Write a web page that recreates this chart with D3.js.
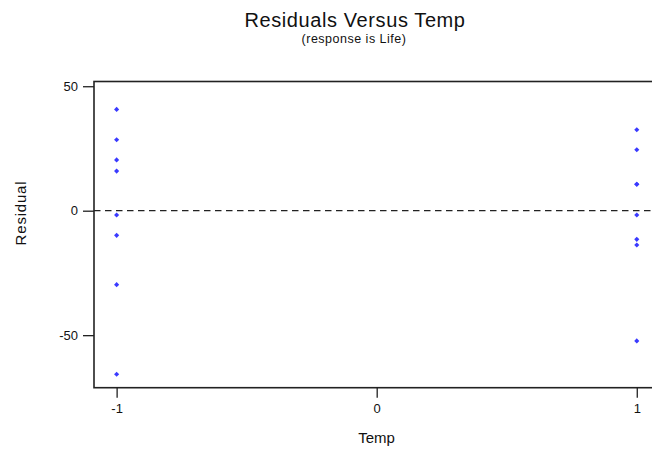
<!DOCTYPE html>
<html><head><meta charset="utf-8">
<script src="https://cdn.jsdelivr.net/npm/d3@7"></script>
<style>body{margin:0;background:#fff;} svg{display:block;font-family:"Liberation Sans",Arial,sans-serif;}</style>
</head><body>
<script>
const tempLevels = [-1, 1];
const residualsLow = [40.7, 28.5, 20.4, 15.9, -1.7, -9.9, -29.7, -65.7];
const residualsHigh = [32.5, 24.5, 10.6, 10.6, -1.7, -11.5, -13.8, -52.3];
const xTicks = [-1, 0, 1];
const yTicks = [50, 0, -50];

const W = 652, H = 454;
const svg = d3.select("body").append("svg").attr("width", W).attr("height", H);

const x = d3.scaleLinear().domain([-1.087, 1.087]).range([94, 659.4]);
const y = d3.scaleLinear().domain([-71.1, 51.9]).range([387.7, 81.5]);

const points = [];
residualsLow.forEach(v => points.push({t: tempLevels[0], r: v}));
residualsHigh.forEach(v => points.push({t: tempLevels[1], r: v}));

// frame
svg.append("rect").attr("x", x(-1.087)).attr("y", y(51.9))
  .attr("width", x(1.087) - x(-1.087)).attr("height", y(-71.1) - y(51.9))
  .attr("fill", "none").attr("stroke", "#222").attr("stroke-width", 1.6);

// reference line
svg.append("line").attr("x1", x(-1.087)).attr("x2", x(1.087))
  .attr("y1", y(0)).attr("y2", y(0))
  .attr("stroke", "#222").attr("stroke-width", 1.3).attr("stroke-dasharray", "6.5,4.5");

const fmt = d => String(d);

// axes
const xAxis = d3.axisBottom(x).tickValues(xTicks).tickFormat(fmt).tickSize(10).tickPadding(6);
const gx = svg.append("g").attr("transform", `translate(0,${y(-71.1)})`).call(xAxis);
gx.select(".domain").remove();
gx.selectAll("line").attr("stroke", "#222").attr("stroke-width", 1.3);
gx.selectAll("text").attr("font-size", 13).attr("fill", "#111").attr("font-family", "Liberation Sans, Arial, sans-serif");

const yAxis = d3.axisLeft(y).tickValues(yTicks).tickFormat(fmt).tickSize(11).tickPadding(5);
const gy = svg.append("g").attr("transform", `translate(${x(-1.087)},0)`).call(yAxis);
gy.select(".domain").remove();
gy.selectAll("line").attr("stroke", "#222").attr("stroke-width", 1.3);
gy.selectAll("text").attr("font-size", 13).attr("fill", "#111").attr("font-family", "Liberation Sans, Arial, sans-serif");

// points
svg.selectAll("path.pt").data(points).enter().append("path")
  .attr("class", "pt")
  .attr("d", d3.symbol().type(d3.symbolSquare).size(13))
  .attr("transform", d => `translate(${x(d.t)},${y(d.r)}) rotate(45)`)
  .attr("fill", "#3a3aff");

// titles
svg.append("text").attr("x", 355).attr("y", 27).attr("text-anchor", "middle")
  .attr("font-size", 20).attr("letter-spacing", 0.6).attr("fill", "#111").text("Residuals Versus Temp");
svg.append("text").attr("x", 354).attr("y", 43).attr("text-anchor", "middle")
  .attr("font-size", 12.5).attr("letter-spacing", 0.5).attr("fill", "#111").text("(response is Life)");
svg.append("text").attr("x", 376.5).attr("y", 443).attr("text-anchor", "middle")
  .attr("font-size", 15).attr("fill", "#111").text("Temp");
svg.append("text").attr("transform", "translate(26,213) rotate(-90)").attr("text-anchor", "middle")
  .attr("font-size", 15).attr("letter-spacing", 0.8).attr("fill", "#111").text("Residual");
</script>
</body></html>
